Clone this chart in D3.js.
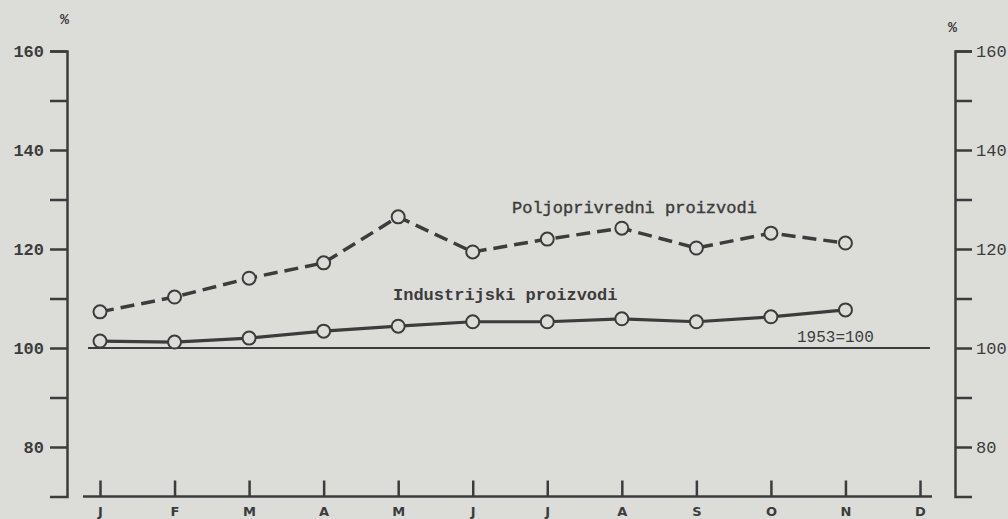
<!DOCTYPE html>
<html>
<head>
<meta charset="utf-8">
<script src="https://cdn.jsdelivr.net/npm/d3@7"></script>
<style>
  html, body { margin: 0; padding: 0; background: #dcdcd9; }
  svg { display: block; }
</style>
</head>
<body>
<script>
const months = ['J', 'F', 'M', 'A', 'M', 'J', 'J', 'A', 'S', 'O', 'N', 'D'];
const monthKeys = months.map((m, i) => i);
// index values, 1953 = 100
const industrija = [101.4, 101.2, 102.0, 103.4, 104.4, 105.3, 105.3, 105.9, 105.3, 106.3, 107.7];
const poljoprivreda = [107.3, 110.3, 114.1, 117.2, 126.5, 119.4, 122.0, 124.2, 120.2, 123.2, 121.2];
const yTicks = [80, 90, 100, 110, 120, 130, 140, 150, 160];
const yLabels = [80, 100, 120, 140, 160];

const w = 1008,
  h = 519;
const ink = '#3c3c3c';
const paper = '#dcdcd9';

const x = d3.scalePoint().domain(monthKeys).range([100, 920]);
const y = d3.scaleLinear().domain([70, 160]).range([496.5, 51]);

const svg = d3
  .select('body')
  .append('svg')
  .attr('width', w)
  .attr('height', h);

const fmt = d => (yLabels.includes(d) ? d : '');

// left axis
const left = svg
  .append('g')
  .attr('transform', 'translate(67, 0)')
  .call(d3.axisLeft(y).tickValues(yTicks).tickSize(17).tickSizeOuter(17).tickPadding(6).tickFormat(fmt));
left.selectAll('path, line').attr('stroke', ink).attr('stroke-width', 2.5);
left
  .selectAll('text')
  .attr('fill', ink)
  .style('font-family', '"Liberation Mono", monospace')
  .style('font-weight', 'bold')
  .style('font-size', '17px');

// right axis
const right = svg
  .append('g')
  .attr('transform', 'translate(955, 0)')
  .call(d3.axisRight(y).tickValues(yTicks).tickSize(17).tickSizeOuter(17).tickPadding(4).tickFormat(fmt));
right.selectAll('path, line').attr('stroke', ink).attr('stroke-width', 2.5);
right
  .selectAll('text')
  .attr('fill', ink)
  .style('font-family', '"Liberation Mono", monospace')
  .style('font-size', '17px');

// month axis, ticks pointing up
const bottom = svg
  .append('g')
  .attr('transform', `translate(0, ${y(70)})`)
  .call(d3.axisBottom(x).tickSize(-16).tickSizeOuter(0).tickPadding(10).tickFormat(i => months[i]));
bottom.select('.domain').remove();
bottom.selectAll('line').attr('stroke', ink).attr('stroke-width', 2.5);
bottom
  .selectAll('text')
  .attr('fill', ink)
  .style('font-family', '"DejaVu Sans", sans-serif')
  .style('font-weight', 'bold')
  .style('font-size', '13px');
bottom
  .append('line')
  .attr('x1', x.range()[0] - 17)
  .attr('x2', x.range()[1] + 12)
  .attr('stroke', ink)
  .attr('stroke-width', 2.5);

// 1953 = 100 reference line
svg
  .append('line')
  .attr('x1', x.range()[0] - 12)
  .attr('x2', x.range()[1] + 10)
  .attr('y1', y(100))
  .attr('y2', y(100))
  .attr('stroke', ink)
  .attr('stroke-width', 2.2);

const line = d3
  .line()
  .x((d, i) => x(i))
  .y(d => y(d));

svg
  .append('path')
  .datum(poljoprivreda)
  .attr('d', line)
  .attr('fill', 'none')
  .attr('stroke', ink)
  .attr('stroke-width', 3.5)
  .attr('stroke-dasharray', '14 7');

svg
  .append('path')
  .datum(industrija)
  .attr('d', line)
  .attr('fill', 'none')
  .attr('stroke', ink)
  .attr('stroke-width', 3.2);

[poljoprivreda, industrija].forEach(series => {
  svg
    .append('g')
    .selectAll('circle')
    .data(series)
    .enter()
    .append('circle')
    .attr('cx', (d, i) => x(i))
    .attr('cy', d => y(d))
    .attr('r', 6.5)
    .attr('fill', paper)
    .attr('stroke', ink)
    .attr('stroke-width', 2);
});

const mono = '"Liberation Mono", "DejaVu Sans Mono", monospace';

svg
  .append('text')
  .attr('x', 512)
  .attr('y', y(127.3))
  .attr('fill', ink)
  .style('font-family', mono)
  .style('font-size', '17px')
  .style('stroke', ink)
  .style('stroke-width', 0.4)
  .text('Poljoprivredni proizvodi');

svg
  .append('text')
  .attr('x', 393)
  .attr('y', y(109.6))
  .attr('fill', ink)
  .style('font-family', mono)
  .style('font-weight', 'bold')
  .style('font-size', '17px')
  .text('Industrijski proizvodi');

svg
  .append('text')
  .attr('x', 797)
  .attr('y', y(100) - 6)
  .attr('fill', ink)
  .style('font-family', mono)
  .style('font-size', '16px')
  .text('1953=100');

svg
  .append('text')
  .attr('x', 60)
  .attr('y', 24)
  .attr('fill', ink)
  .style('font-family', mono)
  .style('font-weight', 'bold')
  .style('font-size', '15px')
  .text('%');

svg
  .append('text')
  .attr('x', 948)
  .attr('y', 32)
  .attr('fill', ink)
  .style('font-family', mono)
  .style('font-weight', 'bold')
  .style('font-size', '15px')
  .text('%');
</script>
</body>
</html>
